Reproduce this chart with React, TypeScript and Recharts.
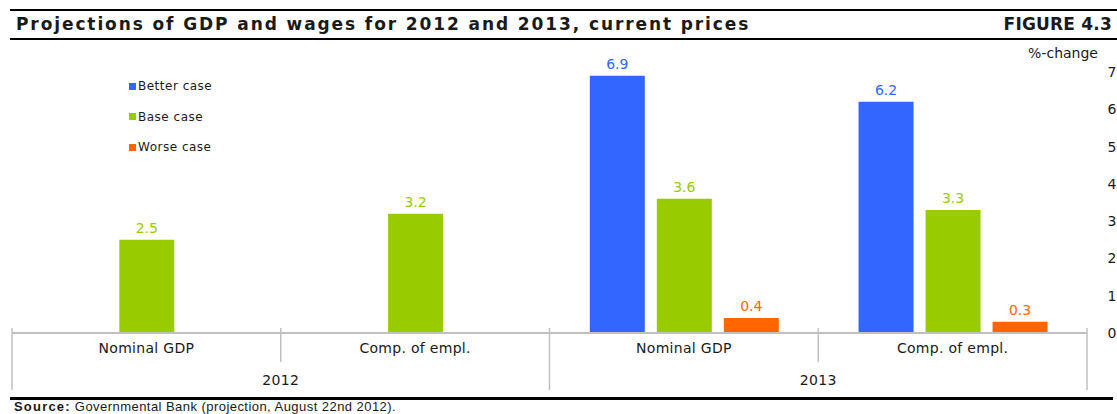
import { BarChart, Bar, XAxis, YAxis, LabelList } from "recharts";

const categories = ["Nominal GDP", "Comp. of empl.", "Nominal GDP", "Comp. of empl."];
const years = ["2012", "2012", "2013", "2013"];
const betterCase = [null, null, 6.9, 6.2];
const baseCase = [2.5, 3.2, 3.6, 3.3];
const worseCase = [null, null, 0.4, 0.3];
const yTicks = [0, 1, 2, 3, 4, 5, 6, 7];

const BLUE = "#3366FF";
const GREEN = "#99CC00";
const ORANGE = "#FF6600";
const GRID = "#c0c0c0";
const TEXT = "#1a1a1a";
const FONT = "'DejaVu Sans', Verdana, sans-serif";

const data = categories.map((cat, i) => ({
  cat,
  year: years[i],
  better: betterCase[i],
  base: baseCase[i],
  worse: worseCase[i],
}));

const CHART_W = 1117;
const CHART_H = 390;
const MARGIN = { top: 72, right: 0, left: 12, bottom: 0 };
const Y_W = 30;
const CAT_H = 29;
const YEAR_H = 28;
const AXIS_Y = CHART_H - MARGIN.bottom - CAT_H - YEAR_H;
const PLOT_W = CHART_W - MARGIN.left - MARGIN.right - Y_W;
const CAT_BAND = PLOT_W / categories.length;
const YEAR_BAND = PLOT_W / 2;

const fmt = (v: any) => (v == null ? "" : Number(v).toFixed(1));

function CatTick(props: any) {
  const { x, payload, index } = props;
  return (
    <g>
      {index % 2 === 0 && (
        <line
          x1={x + CAT_BAND / 2}
          x2={x + CAT_BAND / 2}
          y1={AXIS_Y - 5}
          y2={AXIS_Y + CAT_H}
          stroke={GRID}
          strokeWidth={1.5}
        />
      )}
      <text x={x} y={AXIS_Y + 20} textAnchor="middle" fontSize={14} letterSpacing={0.3} fill={TEXT} fontFamily={FONT}>
        {payload.value}
      </text>
    </g>
  );
}

function YearTick(props: any) {
  const { x, payload, index } = props;
  const sep = (sx: number) => (
    <line x1={sx} x2={sx} y1={AXIS_Y - 5} y2={AXIS_Y + CAT_H + YEAR_H} stroke={GRID} strokeWidth={1.5} />
  );
  return (
    <g>
      {sep(x - YEAR_BAND / 2)}
      {index === 1 && sep(x + YEAR_BAND / 2)}
      <text x={x} y={AXIS_Y + CAT_H + 23} textAnchor="middle" fontSize={14} letterSpacing={0.3} fill={TEXT} fontFamily={FONT}>
        {payload.value}
      </text>
    </g>
  );
}

function YTick(props: any) {
  const { x, y, payload } = props;
  return (
    <text x={x + 17} y={y} dy="0.36em" textAnchor="middle" fontSize={14} fill={TEXT} fontFamily={FONT}>
      {payload.value}
    </text>
  );
}

const legend = [
  { name: "Better case", color: BLUE },
  { name: "Base case", color: GREEN },
  { name: "Worse case", color: ORANGE },
];

const titleStyle = {
  position: "absolute" as const,
  top: 13.5,
  fontSize: 17,
  fontWeight: "bold",
  lineHeight: "20px",
  whiteSpace: "nowrap" as const,
};

export default function App() {
  return (
    <div
      style={{
        position: "absolute",
        left: 0,
        top: 0,
        width: 1117,
        height: 414,
        background: "#fff",
        fontFamily: FONT,
        color: TEXT,
        overflow: "hidden",
      }}
    >
      <div style={{ position: "absolute", left: 10, right: 0, top: 9, height: 2, background: "#000" }} />
      <div style={{ ...titleStyle, left: 16, letterSpacing: 1.9 }}>
        Projections of GDP and wages for 2012 and 2013, current prices
      </div>
      <div style={{ ...titleStyle, right: 5, letterSpacing: 0.2 }}>FIGURE 4.3</div>
      <div style={{ position: "absolute", left: 10, right: 0, top: 38, height: 2, background: "#000" }} />

      <div style={{ position: "absolute", left: 0, top: 0 }}>
        <BarChart
          width={CHART_W}
          height={CHART_H}
          data={data}
          margin={MARGIN}
          barCategoryGap="15%"
          barGap={12}
        >
          <XAxis
            dataKey="cat"
            height={CAT_H}
            axisLine={{ stroke: GRID, strokeWidth: 2 }}
            tickLine={false}
            tick={<CatTick />}
            interval={0}
          />
          <XAxis
            xAxisId="year"
            dataKey="year"
            allowDuplicatedCategory={false}
            height={YEAR_H}
            axisLine={false}
            tickLine={false}
            tick={<YearTick />}
            interval={0}
          />
          <YAxis
            orientation="right"
            width={Y_W}
            domain={[0, 7]}
            ticks={yTicks}
            axisLine={false}
            tickLine={false}
            tick={<YTick />}
            interval={0}
          />
          <Bar dataKey="better" name="Better case" fill={BLUE} isAnimationActive={false}>
            <LabelList dataKey="better" position="top" offset={7} fill={BLUE} fontSize={14} fontFamily={FONT} formatter={fmt} />
          </Bar>
          <Bar dataKey="base" name="Base case" fill={GREEN} isAnimationActive={false}>
            <LabelList dataKey="base" position="top" offset={7} fill={GREEN} fontSize={14} fontFamily={FONT} formatter={fmt} />
          </Bar>
          <Bar dataKey="worse" name="Worse case" fill={ORANGE} isAnimationActive={false}>
            <LabelList dataKey="worse" position="top" offset={7} fill={ORANGE} fontSize={14} fontFamily={FONT} formatter={fmt} />
          </Bar>
        </BarChart>
      </div>

      <div style={{ position: "absolute", right: 19, top: 45, fontSize: 14, lineHeight: "16px" }}>%-change</div>

      {legend.map((l, i) => (
        <div
          key={l.name}
          style={{
            position: "absolute",
            left: 129,
            top: 78 + i * 30.5,
            display: "flex",
            alignItems: "center",
            fontSize: 12,
            letterSpacing: 0.5,
            lineHeight: "16px",
            whiteSpace: "nowrap",
          }}
        >
          <span style={{ display: "inline-block", width: 7, height: 7, background: l.color, marginRight: 2 }} />
          {l.name}
        </div>
      ))}

      <div style={{ position: "absolute", left: 10, width: 1103, top: 397, height: 2.5, background: "#000" }} />
      <div
        style={{
          position: "absolute",
          left: 14,
          top: 400,
          fontSize: 13,
          letterSpacing: 0.45,
          lineHeight: "14px",
          fontFamily: "'Liberation Sans', Arial, sans-serif",
          whiteSpace: "nowrap",
        }}
      >
        <b style={{ letterSpacing: 1.2 }}>Source:</b> Governmental Bank (projection, August 22nd 2012).
      </div>
    </div>
  );
}
